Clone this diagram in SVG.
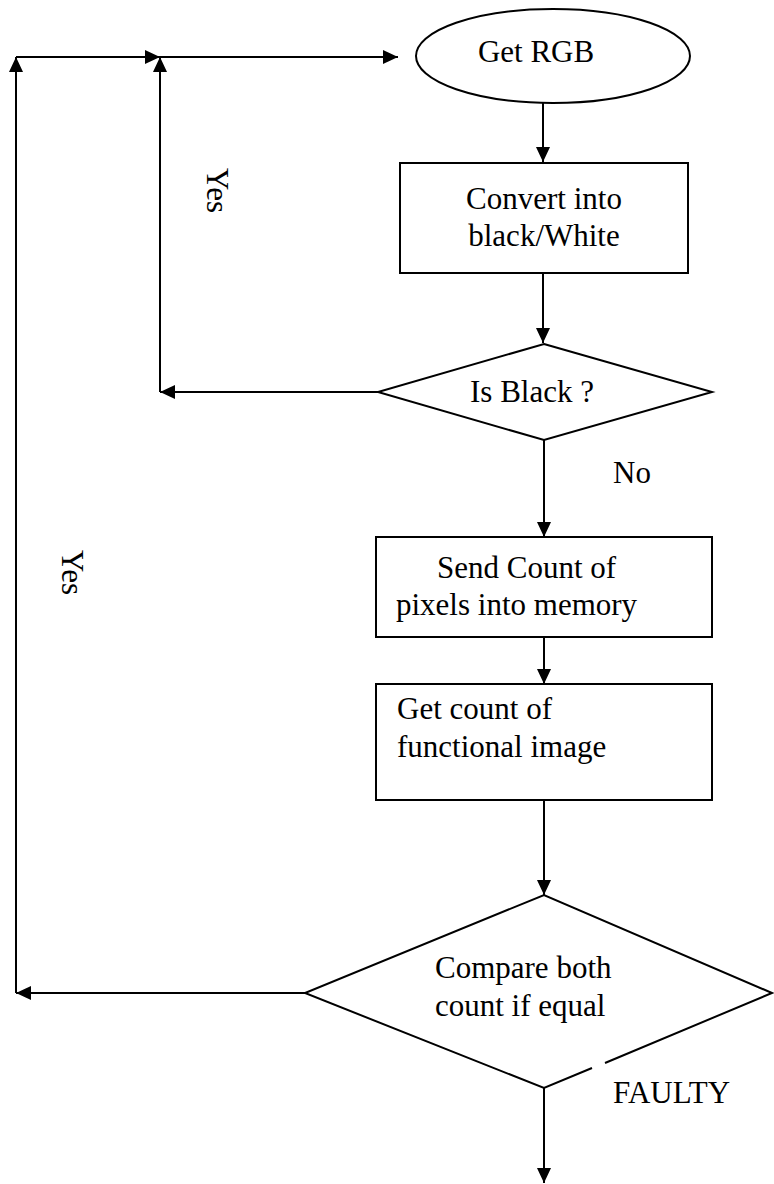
<svg xmlns="http://www.w3.org/2000/svg" width="774" height="1184" viewBox="0 0 774 1184">
<style>
.s{fill:none;stroke:#000;stroke-width:2}
.n{fill:#fff;stroke:#000;stroke-width:2}
.t{font-family:"Liberation Serif","Times New Roman",serif;font-size:31px;fill:#000}
.c{text-anchor:middle}
</style>
<defs>
<marker id="ah" markerUnits="userSpaceOnUse" markerWidth="15" markerHeight="14" refX="15" refY="7" orient="auto" viewBox="0 0 15 14">
<path d="M0,0 L15,7 L0,14 z" fill="#000"/>
</marker>
</defs>
<g id="connectors">
<line class="s" x1="16" y1="57" x2="160" y2="57" marker-end="url(#ah)"/>
<line class="s" x1="160" y1="57" x2="398" y2="57" marker-end="url(#ah)"/>
<line class="s" x1="543" y1="103" x2="543" y2="162" marker-end="url(#ah)"/>
<line class="s" x1="543" y1="273" x2="543" y2="343" marker-end="url(#ah)"/>
<line class="s" x1="378" y1="392" x2="160" y2="392" marker-end="url(#ah)"/>
<line class="s" x1="160" y1="392" x2="160" y2="57" marker-end="url(#ah)"/>
<line class="s" x1="544" y1="440" x2="544" y2="537" marker-end="url(#ah)"/>
<line class="s" x1="544" y1="637" x2="544" y2="684" marker-end="url(#ah)"/>
<line class="s" x1="544" y1="800" x2="544" y2="895" marker-end="url(#ah)"/>
<line class="s" x1="305" y1="993" x2="16" y2="993" marker-end="url(#ah)"/>
<line class="s" x1="16" y1="993" x2="16" y2="57" marker-end="url(#ah)"/>
<line class="s" x1="544" y1="1088" x2="544" y2="1183" marker-end="url(#ah)"/>
<text class="t" transform="translate(207,168) rotate(90)">Yes</text>
<text class="t" transform="translate(62,550) rotate(90)">Yes</text>
<text class="t" x="613" y="483">No</text>
<text class="t" x="613" y="1103">FAULTY</text>
</g>
<g id="get-rgb">
<ellipse class="n" cx="553" cy="56" rx="137" ry="47"/>
<text class="t c" x="536" y="62">Get RGB</text>
</g>
<g id="convert">
<rect class="n" x="400" y="163" width="288" height="110"/>
<text class="t c" x="544" y="209">Convert into</text>
<text class="t c" x="544" y="246">black/White</text>
</g>
<g id="is-black">
<polygon class="n" points="544,344 712,392 544,440 378,392"/>
<text class="t c" x="532" y="402">Is Black ?</text>
</g>
<g id="send-count">
<rect class="n" x="376" y="537" width="336" height="100"/>
<text class="t" x="437" y="578">Send Count of</text>
<text class="t" x="396" y="615">pixels into memory</text>
</g>
<g id="get-count">
<rect class="n" x="376" y="684" width="336" height="116"/>
<text class="t" x="397" y="719">Get count of</text>
<text class="t" x="397" y="757">functional image</text>
</g>
<g id="compare">
<polyline class="n" points="605,1063 772,993 544,895 305,993 544,1088 592,1068"/>
<text class="t" x="435" y="978">Compare both</text>
<text class="t" x="435" y="1016">count if equal</text>
</g>
</svg>
